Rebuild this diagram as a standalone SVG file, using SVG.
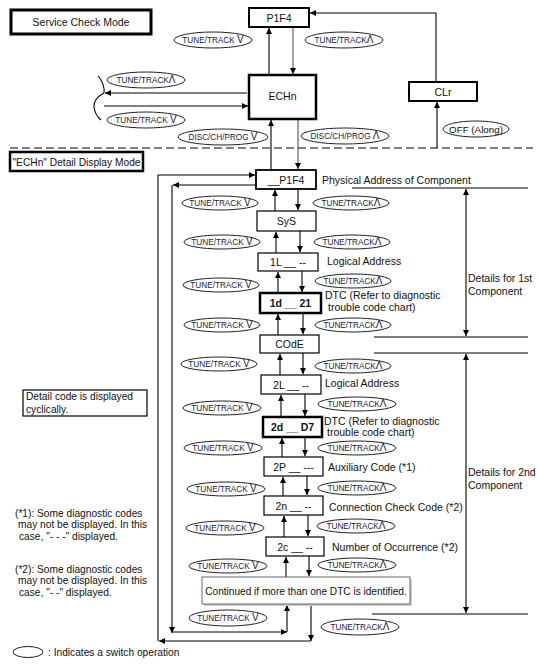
<svg xmlns="http://www.w3.org/2000/svg" width="539" height="672" viewBox="0 0 539 672">
<style>
text{font-family:"Liberation Sans",Arial,sans-serif;fill:#111}
.t10{font-size:10.5px}
.t9{font-size:10.2px}
.sw{font-size:8.2px;text-anchor:middle;fill:#1a1a3a}
.sw tspan{font-size:10px}
.c{text-anchor:middle}
.box{fill:#fff;stroke:#000;stroke-width:1.2}
.thick{fill:#fff;stroke:#000;stroke-width:2.5}
.ell{fill:#fff;stroke:#222;stroke-width:1}
.ln{fill:none;stroke:#000;stroke-width:1.1}
.gr{fill:none;stroke:#555;stroke-width:1.1}
</style>
<defs>
<marker id="ah" markerUnits="userSpaceOnUse" markerWidth="7" markerHeight="6" refX="6" refY="3" orient="auto-start-reverse">
<path d="M0,0 L6,3 L0,6 z" fill="#000"/>
</marker>
</defs>
<rect width="539" height="672" fill="#fff"/>

<g id="connectors">
<path class="ln" d="M269,75 L269,28" marker-end="url(#ah)"/>
<path class="gr" d="M293,27 L293,74" marker-end="url(#ah)"/>
<path class="ln" d="M436,82 L436,13 L310,13" marker-end="url(#ah)"/>
<path class="ln" d="M437,148 L437,102" marker-end="url(#ah)"/>
<path class="ln" d="M247,93 L105,93" marker-end="url(#ah)"/>
<path class="ln" d="M104,106 L248,106" marker-end="url(#ah)"/>
<path class="ln" d="M98,76 Q105,84 104,93 Q93,99 94,107 Q95,115 101,120"/>
<path class="ln" d="M271,170 L271,120" marker-end="url(#ah)"/>
<path class="gr" d="M298,119 L298,169" marker-end="url(#ah)"/>
<path d="M10,148 L533,148" fill="none" stroke="#000" stroke-width="1.2" stroke-dasharray="8,4"/>

<path class="ln" d="M275,211 L275,190" marker-end="url(#ah)"/>
<path class="ln" d="M298,189 L298,210" marker-end="url(#ah)"/>
<path class="ln" d="M276,253 L276,232" marker-end="url(#ah)"/>
<path class="ln" d="M300,231 L300,252" marker-end="url(#ah)"/>
<path class="ln" d="M278,293 L278,272" marker-end="url(#ah)"/>
<path class="ln" d="M302,271 L302,292" marker-end="url(#ah)"/>
<path class="ln" d="M278,335 L278,314" marker-end="url(#ah)"/>
<path class="ln" d="M303,313 L303,334" marker-end="url(#ah)"/>
<path class="ln" d="M280,375 L280,354" marker-end="url(#ah)"/>
<path class="ln" d="M303,353 L303,374" marker-end="url(#ah)"/>
<path class="ln" d="M281,417 L281,395" marker-end="url(#ah)"/>
<path class="ln" d="M305,394 L305,416" marker-end="url(#ah)"/>
<path class="ln" d="M282,457 L282,438" marker-end="url(#ah)"/>
<path class="ln" d="M305,437 L305,456" marker-end="url(#ah)"/>
<path class="ln" d="M283,496 L283,477" marker-end="url(#ah)"/>
<path class="ln" d="M307,476 L307,495" marker-end="url(#ah)"/>
<path class="ln" d="M284,537 L284,516" marker-end="url(#ah)"/>
<path class="ln" d="M308,515 L308,536" marker-end="url(#ah)"/>
<path class="ln" d="M286,577 L286,557" marker-end="url(#ah)"/>
<path class="ln" d="M309,556 L309,576" marker-end="url(#ah)"/>

<path class="ln" d="M256,185 L173,185" marker-end="url(#ah)"/>
<path class="ln" d="M172,185 L172,633" marker-end="url(#ah)"/>
<path class="ln" d="M172,632 L287,632" marker-end="url(#ah)"/>
<path class="ln" d="M287,632 L287,605" marker-end="url(#ah)"/>
<path class="ln" d="M311,604 L311,641" marker-end="url(#ah)"/>
<path class="ln" d="M311,641 L159,641" marker-end="url(#ah)"/>
<path class="ln" d="M158,641 L158,175 L255,175" marker-end="url(#ah)"/>

<path class="ln" d="M352,188 L528,188"/>
<path class="ln" d="M466,189 L466,336" marker-start="url(#ah)" marker-end="url(#ah)"/>
<path class="ln" d="M374,337 L528,337"/>
<path class="ln" d="M374,353 L528,353"/>
<path class="ln" d="M466,354 L466,613" marker-start="url(#ah)" marker-end="url(#ah)"/>
<path class="ln" d="M372,614 L528,614"/>
</g>

<g id="service-check-mode"><rect x="11" y="10" width="140" height="24" fill="#fff" stroke="#000" stroke-width="3"/><text class="t10 c" x="81" y="26" font-size="11px">Service Check Mode</text></g>
<g id="p1f4-top"><rect x="249" y="8" width="60" height="19" fill="#fff" stroke="#000" stroke-width="2"/><text class="t10 c" x="279" y="21.5">P1F4</text></g>
<g id="echn"><rect x="249" y="75" width="67" height="44" class="thick"/><text class="t10 c" x="282.5" y="100">ECHn</text></g>
<g id="clr"><rect x="409" y="82" width="68" height="19" fill="#fff" stroke="#000" stroke-width="2"/><text class="t10 c" x="443" y="95.5">CLr</text></g>
<g id="detail-mode-title"><rect x="10" y="152" width="133" height="19" fill="#fff" stroke="#000" stroke-width="2.5"/><text class="t10" x="12.5" y="165.5" textLength="128" lengthAdjust="spacingAndGlyphs">"ECHn" Detail Display Mode</text></g>

<g id="sw-top">
<ellipse class="ell" cx="213" cy="40" rx="39" ry="8"/><text class="sw" x="213" y="43">TUNE/TRACK <tspan>V</tspan></text>
<ellipse class="ell" cx="344" cy="40" rx="39" ry="8"/><text class="sw" x="344" y="43">TUNE/TRACK<tspan>Λ</tspan></text>
<ellipse class="ell" cx="146" cy="80" rx="39" ry="8"/><text class="sw" x="146" y="83">TUNE/TRACK<tspan>Λ</tspan></text>
<ellipse class="ell" cx="146" cy="120" rx="39" ry="8"/><text class="sw" x="146" y="123">TUNE/TRACK <tspan>V</tspan></text>
<ellipse class="ell" cx="223" cy="137" rx="45" ry="8"/><text class="sw" x="223" y="140">DISC/CH/PROG <tspan>V</tspan></text>
<ellipse class="ell" cx="345" cy="136" rx="44" ry="8"/><text class="sw" x="345" y="139">DISC/CH/PROG <tspan>Λ</tspan></text>
<ellipse class="ell" cx="476" cy="129" rx="33" ry="8"/><text class="c" x="476" y="132.5" font-size="9.8px">OFF (Along)</text>
</g>

<g id="n-p1f4"><rect x="256" y="170" width="60" height="19" fill="#fff" stroke="#000" stroke-width="1.8"/><text class="t10 c" x="286" y="184">__P1F4</text><text class="t10" x="322" y="184">Physical Address of Component</text></g>
<g id="n-sys"><rect x="257" y="211" width="59" height="20" class="box"/><text class="t10 c" x="286.5" y="225">SyS</text></g>
<g id="n-1l"><rect x="258" y="253" width="60" height="18" class="box"/><text class="t10 c" x="288" y="266">1L __ --</text><text class="t10" x="327" y="265">Logical Address</text></g>
<g id="n-1d"><rect x="260" y="293" width="61" height="20" class="thick"/><text class="t10 c" x="290.5" y="307" font-weight="bold">1d __ 21</text><text class="t10" x="325" y="299">DTC (Refer to diagnostic</text><text class="t10" x="328" y="311">trouble code chart)</text></g>
<g id="n-code"><rect x="260" y="335" width="59" height="18" class="box"/><text class="t10 c" x="289.5" y="348">COdE</text></g>
<g id="n-2l"><rect x="261" y="375" width="60" height="19" class="box"/><text class="t10 c" x="291" y="388.5">2L __ --</text><text class="t10" x="325" y="387">Logical Address</text></g>
<g id="n-2d"><rect x="263" y="417" width="59" height="20" class="thick"/><text class="t10 c" x="292.5" y="431" font-weight="bold">2d __ D7</text><text class="t10" x="324" y="425">DTC (Refer to diagnostic</text><text class="t10" x="327" y="436">trouble code chart)</text></g>
<g id="n-2p"><rect x="264" y="457" width="59" height="19" class="box"/><text class="t10 c" x="293.5" y="470.5">2P __ ---</text><text class="t10" x="328" y="471">Auxiliary Code (*1)</text></g>
<g id="n-2n"><rect x="264" y="496" width="59" height="19" class="box"/><text class="t10 c" x="293.5" y="509.5">2n __ --</text><text class="t10" x="329" y="511">Connection Check Code (*2)</text></g>
<g id="n-2c"><rect x="266" y="537" width="58" height="19" class="box"/><text class="t10 c" x="295" y="550.5">2c __ --</text><text class="t10" x="332" y="551">Number of Occurrence (*2)</text></g>
<g id="n-continued"><rect x="204" y="579" width="208" height="27" fill="#ccc"/><rect x="202" y="577" width="208" height="27" fill="#fff" stroke="#666" stroke-width="1"/><text class="c" x="306" y="594.5" font-size="10.1px">Continued if more than one DTC is identified.</text></g>

<g id="sw-detail">
<ellipse class="ell" cx="220" cy="203" rx="38" ry="7"/><text class="sw" x="220" y="206">TUNE/TRACK <tspan>V</tspan></text>
<ellipse class="ell" cx="351" cy="203" rx="38" ry="7"/><text class="sw" x="351" y="206">TUNE/TRACK<tspan>Λ</tspan></text>
<ellipse class="ell" cx="222" cy="242" rx="38" ry="7"/><text class="sw" x="222" y="245">TUNE/TRACK <tspan>V</tspan></text>
<ellipse class="ell" cx="352" cy="242" rx="38" ry="7"/><text class="sw" x="352" y="245">TUNE/TRACK<tspan>Λ</tspan></text>
<ellipse class="ell" cx="221" cy="285" rx="38" ry="7"/><text class="sw" x="221" y="288">TUNE/TRACK <tspan>V</tspan></text>
<ellipse class="ell" cx="353" cy="281" rx="38" ry="7"/><text class="sw" x="353" y="284">TUNE/TRACK<tspan>Λ</tspan></text>
<ellipse class="ell" cx="222" cy="325" rx="38" ry="7"/><text class="sw" x="222" y="328">TUNE/TRACK <tspan>V</tspan></text>
<ellipse class="ell" cx="353" cy="325" rx="38" ry="7"/><text class="sw" x="353" y="328">TUNE/TRACK<tspan>Λ</tspan></text>
<ellipse class="ell" cx="219" cy="364" rx="38" ry="7"/><text class="sw" x="219" y="367">TUNE/TRACK <tspan>V</tspan></text>
<ellipse class="ell" cx="353" cy="366" rx="38" ry="7"/><text class="sw" x="353" y="369">TUNE/TRACK<tspan>Λ</tspan></text>
<ellipse class="ell" cx="222" cy="408" rx="39" ry="7"/><text class="sw" x="222" y="411">TUNE/TRACK <tspan>V</tspan></text>
<ellipse class="ell" cx="357" cy="404" rx="39" ry="7"/><text class="sw" x="357" y="407">TUNE/TRACK<tspan>Λ</tspan></text>
<ellipse class="ell" cx="223" cy="448" rx="39" ry="7"/><text class="sw" x="223" y="451">TUNE/TRACK <tspan>V</tspan></text>
<ellipse class="ell" cx="357" cy="448" rx="39" ry="7"/><text class="sw" x="357" y="451">TUNE/TRACK<tspan>Λ</tspan></text>
<ellipse class="ell" cx="226" cy="489" rx="39" ry="7"/><text class="sw" x="226" y="492">TUNE/TRACK <tspan>V</tspan></text>
<ellipse class="ell" cx="357" cy="488" rx="39" ry="7"/><text class="sw" x="357" y="491">TUNE/TRACK<tspan>Λ</tspan></text>
<ellipse class="ell" cx="225" cy="528" rx="39" ry="7"/><text class="sw" x="225" y="531">TUNE/TRACK <tspan>V</tspan></text>
<ellipse class="ell" cx="356" cy="526" rx="39" ry="7"/><text class="sw" x="356" y="529">TUNE/TRACK<tspan>Λ</tspan></text>
<ellipse class="ell" cx="228" cy="566" rx="39" ry="7"/><text class="sw" x="228" y="569">TUNE/TRACK <tspan>V</tspan></text>
<ellipse class="ell" cx="357" cy="565" rx="39" ry="7"/><text class="sw" x="357" y="568">TUNE/TRACK<tspan>Λ</tspan></text>
<ellipse class="ell" cx="228" cy="618" rx="39" ry="8"/><text class="sw" x="228" y="621">TUNE/TRACK <tspan>V</tspan></text>
<ellipse class="ell" cx="360" cy="627" rx="39" ry="8"/><text class="sw" x="360" y="630">TUNE/TRACK<tspan>Λ</tspan></text>
</g>

<g id="details-labels">
<text class="t10" x="468" y="282">Details for 1st</text><text class="t10" x="468" y="295">Component</text>
<text class="t10" x="468" y="476">Details for 2nd</text><text class="t10" x="468" y="489">Component</text>
</g>

<g id="note-cyclic"><rect x="23" y="390" width="124" height="26" fill="#fff" stroke="#000" stroke-width="1.2"/><text class="t9" x="26" y="400">Detail code is displayed</text><text class="t9" x="26" y="413">cyclically.</text></g>
<g id="note-1"><text class="t9" x="15" y="517">(*1): Some diagnostic codes</text><text class="t9" x="18" y="528">may not be displayed. In this</text><text class="t9" x="19" y="540">case, "- - -" displayed.</text></g>
<g id="note-2"><text class="t9" x="15" y="573">(*2): Some diagnostic codes</text><text class="t9" x="18" y="584">may not be displayed. In this</text><text class="t9" x="19" y="596">case, "- -" displayed.</text></g>
<g id="legend"><ellipse class="ell" cx="28" cy="652" rx="15" ry="5.5"/><text class="t9" x="48" y="655.5">: Indicates a switch operation</text></g>
</svg>
